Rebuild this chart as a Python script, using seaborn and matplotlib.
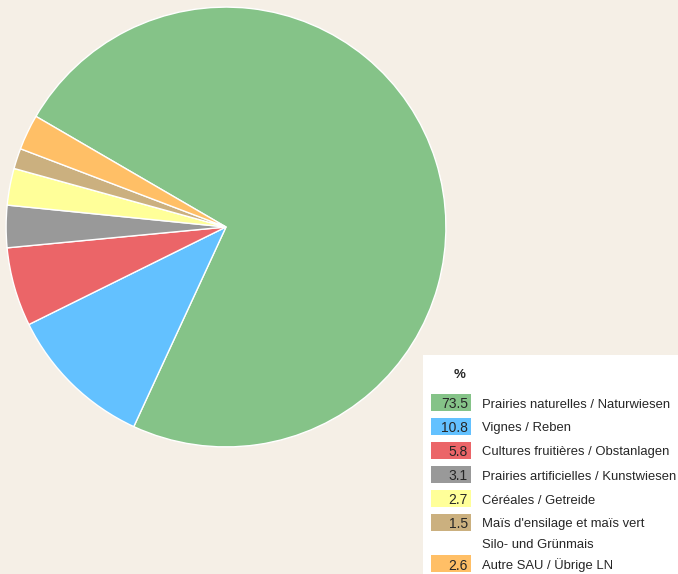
import matplotlib
matplotlib.use("Agg")
import matplotlib.pyplot as plt
import seaborn as sns

# parts de la surface agricole utile (%)
valeurs = [73.5, 10.8, 5.8, 3.1, 2.7, 1.5, 2.6]
etiquettes = [
    "Prairies naturelles / Naturwiesen",
    "Vignes / Reben",
    "Cultures fruitières / Obstanlagen",
    "Prairies artificielles / Kunstwiesen",
    "Céréales / Getreide",
    "Maïs d'ensilage et maïs vert\nSilo- und Grünmais",
    "Autre SAU / Übrige LN",
]
couleurs = ["#85c388", "#63c1ff", "#eb6568", "#999999", "#ffff99", "#cbb07f", "#ffbf66"]

sns.set_style("white")
plt.rcParams["font.family"] = ["Liberation Sans", "DejaVu Sans"]
fond = "#f5efe6"

W, H = 678, 574
fig = plt.figure(figsize=(W / 100, H / 100), dpi=100, facecolor=fond)

# camembert
ax = fig.add_axes([5 / W, 1 - 448 / H, 442 / W, 442 / H])
ax.pie(valeurs, colors=couleurs, startangle=149.8, counterclock=False,
       radius=1, wedgeprops=dict(edgecolor="white", linewidth=1))
ax.set_xlim(-1.005, 1.005)
ax.set_ylim(-1.005, 1.005)
ax.set_aspect("equal")
ax.axis("off")

# legende (coordonnees en pixels)
lg = fig.add_axes([423 / W, 0, (W - 423) / W, (H - 355) / H])
lg.set_xlim(423, W)
lg.set_ylim(H, 355)
lg.set_facecolor("white")
for s in lg.spines.values():
    s.set_visible(False)
lg.set_xticks([])
lg.set_yticks([])

lg.text(460, 373, "%", ha="center", va="center_baseline", fontsize=9.5, fontweight="bold")
y = 402
for v, lab, c in zip(valeurs, etiquettes, couleurs):
    lg.add_patch(plt.Rectangle((431, y - 8.5), 40, 17, facecolor=c, edgecolor="none"))
    lg.text(468, y + 1, f"{v:.1f}", ha="right", va="center_baseline", fontsize=10)
    lignes = lab.split("\n")
    for k, ligne in enumerate(lignes):
        lg.text(482, y + 1 + 21 * k, ligne, ha="left", va="center_baseline", fontsize=9.4)
    y += 24 + 17 * (len(lignes) - 1)

fig.savefig("out.png", dpi=100, facecolor=fond)
